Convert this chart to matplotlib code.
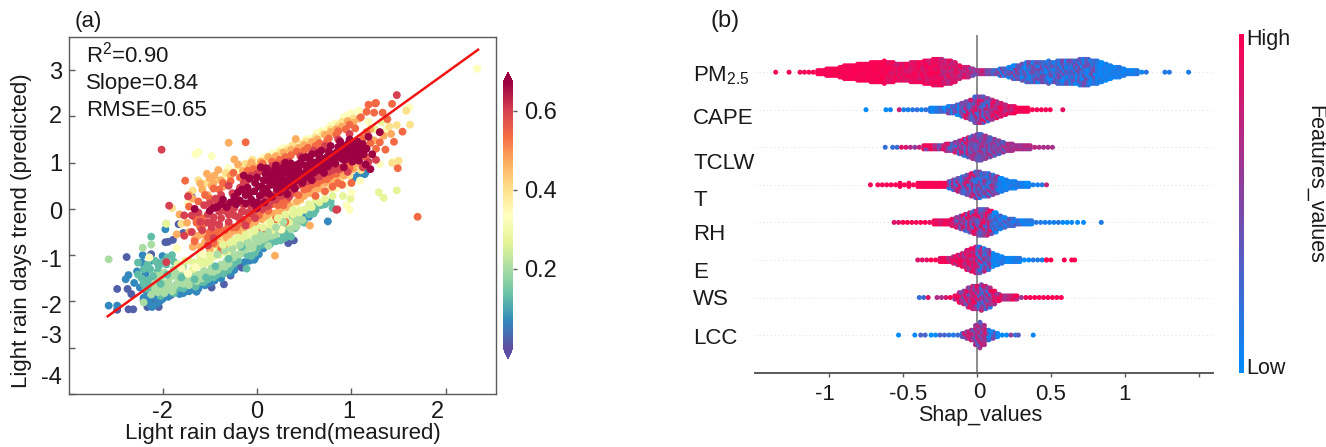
import numpy as np
import matplotlib
matplotlib.use("Agg")
import matplotlib.pyplot as plt
import matplotlib.transforms as mtrans
from matplotlib.colors import LinearSegmentedColormap, Normalize
from matplotlib.cm import ScalarMappable

plt.rcParams['font.family'] = ['Liberation Sans', 'DejaVu Sans']
plt.rcParams['mathtext.default'] = 'regular'

W, H = 1326, 447

# ---------- panel (a) data: measured / predicted, grouped by density ----------
density_levels = [0.02, 0.07, 0.13, 0.20, 0.27, 0.33, 0.40, 0.47, 0.54, 0.60, 0.67]

pts_indigo = [(-1.48,-1.73),(-1.37,-1.73),(-1.33,-1.84),(-1.38,-1.04),(-.94,-.71),(-.89,-.67),(-.83,-.33),
 (-1.48,-2.18),(-1.36,-2.17),(-1.31,-2.17),(-.48,-1.7),(-.35,-1.63),(-.91,-1.86),(-.2,-1.23),(-1.12,-.98),
 (-1.12,-2.02),(-1.04,-2.12),(-.97,-.72),(-.78,-.52),(-.28,-1.44),(-.16,-1.27),(-1.16,-2.12),(-1.1,-1.98),
 (-1.2,-1.98),(-.62,-1.62),(-.68,-1.74),(.39,-.68),(-.69,.26),(.33,-.74)]
pts_blue = [(-1.57,-2.09),(-1.48,-2.09),(-1.39,-1.52),(-1.36,-1.43),(-1.21,-1.0),(-.97,-.44),(-1.13,-2.07),
 (-1.11,-2.12),(-1.03,-2.0),(-.78,-1.82),(-.64,-1.79),(-.62,-1.72),(-.28,-1.39),(-.03,-1.1),(-.02,-1.06),
 (.07,-.85),(-1.2,-1.92),(-1.15,-1.95),(-1.08,-1.9),(-1.0,-1.95),(-.95,-1.8),(-.85,-1.75),(-.72,-1.78),
 (-.55,-1.65),(-.45,-1.55),(-.38,-1.5),(-.13,-1.15),(-1.24,-1.7),(-1.2,-1.55),(-1.18,-1.4),(.75,-.27),
 (.55,-.17),(1.03,.67),(1.15,.79),(1.14,.75),(.47,-.12),(-1.27,-1.35),(-1.22,-1.16),(-.7,-1.72),
 (-1.05,-1.17),(-1.0,-1.02),(.1,-.68),(.38,-.15),(-1.17,-1.78),(-1.06,-2.05),(-.94,-1.9),(-.82,-1.84),
 (-.6,-1.58),(-.5,-1.6),(-.24,-1.32),(-.08,-1.12),(.02,-.98),(1.07,.72),(-1.3,-1.6),(-1.12,-1.12)]
pts_teal = [(-1.12,-.6),(-1.26,-1.16),(-1.22,-1.5),(-1.2,-1.3),(-1.16,-1.2),(-1.14,-1.62),(-1.18,-1.72),
 (-1.1,-1.75),(-1.06,-1.55),(-1.05,-1.35),(-1.0,-1.15),(-.95,-1.05),(-.9,-1.0),(-1.02,-1.88),(-.92,-1.72),
 (-.82,-1.7),(-.75,-1.62),(-.65,-1.68),(-.6,-1.58),(-.52,-1.52),(-.42,-1.42),(-.35,-1.4),(-.28,-1.25),
 (-.11,-1.29),(-.2,-1.12),(-.1,-1.0),(-.02,-.95),(.05,-.78),(.1,-.72),(.18,-.62),(.28,-.55),(.35,-.45),
 (.42,-.32),(.5,-.3),(.55,-.12),(.62,-.03),(.68,.08),(.78,.15),(.8,.02),(.72,.1),(.25,-.68),(.46,-.2),
 (-.88,-1.82),(-.72,-1.55),(-.5,-1.45),(-.15,-.95),(-1.26,-1.42),(-1.13,-1.3),(-1.08,-1.12),(-1.2,-1.62),
 (-1.12,-1.5),(-1.04,-1.24),(-.96,-1.2),(-.88,-1.14),(-.98,-1.78),(-.86,-1.72),(-.78,-1.72),(-.68,-1.6),
 (-.56,-1.58),(-.46,-1.48),(-.38,-1.34),(-.3,-1.32),(-.24,-1.18),(-.06,-1.02),(.0,-.86),(.14,-.76),(.2,-.7),
 (.32,-.5),(.4,-.42),(.64,.08),(.6,-.1),(.3,-.62),(.36,-.6)]
pts_green = [(-1.12,-1.85),(-1.05,-1.8),(-1.0,-1.72),(-.95,-1.65),(-.9,-1.78),(-.85,-1.62),(-.8,-1.55),
 (-.75,-1.45),(-.72,-1.65),(-.68,-1.52),(-.62,-1.42),(-.58,-1.5),(-.52,-1.38),(-.48,-1.28),(-.42,-1.32),
 (-.38,-1.2),(-.32,-1.12),(-.25,-1.05),(-.18,-.98),(-.12,-.88),(-.05,-.85),(.02,-.7),(.1,-.62),(.15,-.5),
 (.22,-.45),(.3,-.35),(.38,-.25),(-1.08,-1.6),(-1.02,-1.5),(-.98,-1.38),(-.92,-1.48),(-.88,-1.3),
 (-.82,-1.38),(-.78,-1.25),(-1.21,-.84),(-1.12,-.77),(-1.57,-1.09),(-.96,-.32),(-1.2,-2.02),(-.86,-1.45),
 (-.94,-1.58),(-1.0,-1.6),(-.76,-1.58),(-.56,-1.34),(-.34,-1.25),(-.28,-1.0),(-.08,-.76),(.12,-.8),(.2,-.55),
 (-1.08,-1.72),(-1.04,-1.64),(-.98,-1.82),(-.94,-1.74),(-.88,-1.68),(-.82,-1.56),(-.78,-1.62),(-.72,-1.5),
 (-.66,-1.44),(-.64,-1.56),(-.54,-1.44),(-.46,-1.36),(-.4,-1.26),(-.3,-1.18),(-.22,-1.0),(-.16,-.9),(-.04,-.78),
 (.06,-.66),(.16,-.58),(.26,-.42),(.34,-.38),(.44,-.22),(-1.0,-1.42),(-.9,-1.4),(-.84,-1.2),(-1.06,-1.44)]
pts_pale = [(-.68,-1.3),(-.62,-1.22),(-.55,-1.18),(-.5,-1.12),(-.45,-1.02),(-.4,-1.0),(-.32,-.95),(-.28,-.85),
 (-.22,-.8),(-.15,-.72),(-.1,-.62),(-.02,-.55),(.05,-.5),(.1,-.42),(.18,-.35),(.25,-.25),(.3,-.18),(.38,-.12),
 (.45,-.08),(.55,.1),(.62,.2),(.72,.22),(.8,.28),(.91,.28),(.99,.22),(1.29,.36),(1.34,.24),(1.48,.40),
 (-.96,-.32),(-.84,-1.2),(-.72,-1.12),(-.6,-1.02),(-.36,-.72),(-.18,-.6),(.16,-.46),(.34,-.3),(1.25,1.72),
 (.0,-.38),(-.42,-.84),(.5,-.02),(1.18,1.55),(1.32,1.88),(-.76,-1.12),(-.66,-1.16),(-.58,-1.08),(-.48,-1.02),
 (-.38,-.9),(-.3,-.8),(-.24,-.68),(-.12,-.52),(-.04,-.46),(.03,-.42),(.12,-.32),(.2,-.26),(.28,-.1),(.36,-.04),
 (.42,.02),(.58,.04),(.66,.14)]
pts_paleyel = [(-.65,1.18),(-.62,1.23),(-1.14,-1.05),(-.73,-1.40),(-.85,-.85),(-.8,-1.28),(-.65,-1.26),(-.73,.11),
 (.26,-.45),(.0,1.02),(.17,1.2),(.28,1.31),(.46,1.42),(.63,1.63),(.83,1.85),(1.0,2.07),(1.18,1.89),(1.09,.61),
 (.93,.52),(1.30,.97),(1.44,1.02),(1.37,1.71),(1.59,2.17),(1.61,2.19),(.95,.08),(.98,-.02),(.2,1.12),(.34,1.34),
 (.56,1.52),(.74,1.72),(.92,1.98),(1.08,2.12),(-.1,.92),(-.22,.82),(-.35,.7),(.06,1.1),(-.58,-.98),(-.48,-.92),
 (.08,-.28),(.14,-.14),(.7,.38),(.84,.45),(1.0,.36),(2.33,3.03),(-.3,.88),(-.48,1.14),(.12,1.15),(.24,1.28),
 (.4,1.36),(.52,1.5),(.68,1.68),(.78,1.8),(.96,2.02),(-.04,.98),(-.16,.9),(.22,-.18),(.32,-.02),(.4,.08)]
pts_yellow = [(1.62,1.82),(1.48,1.81),(1.58,2.12),(1.4,1.78),(1.3,1.65),(1.02,1.96),(.9,1.88),(.7,1.62),(.52,1.46),
 (.38,1.38),(.25,1.22),(.1,1.08),(-.05,1.06),(-.2,.95),(-.33,.78),(-.44,.64),(-.55,.55),(-.68,.4),(-.62,.62),
 (.88,.62),(.98,.72),(1.1,.84),(.78,.45),(.6,.32),(-.42,-.72),(-.3,-.58),(-.18,-.42),(-.06,-.3),(.06,-.14),
 (.22,-.06),(.36,.1),(.46,.18),(1.43,.99),(1.5,1.04),(.66,.5),(-.8,-.32),(-.9,.02),(.32,1.28),(.48,1.4),(.62,1.54),
 (.78,1.72),(.86,1.8),(-.12,.98),(-.04,.94),(.14,1.06),(-.36,-.66),(-.24,-.46),(-.12,-.34),(.0,-.2),(.12,-.12)]
pts_orange = [(-.3,1.43),(.41,1.51),(.56,-.36),(.19,-1.01),(-.53,.76),(-.41,.84),(-.24,1.07),(-.2,.96),(-.06,1.0),
 (.12,1.12),(.28,1.22),(.44,1.32),(.58,1.45),(.72,1.6),(.84,1.72),(.96,1.9),(1.08,1.95),(1.2,1.72),(1.34,1.58),
 (1.42,1.62),(1.24,1.48),(1.14,1.3),(1.06,.98),(.96,.82),(.84,.7),(.72,.56),(.6,.42),(.5,.28),(.42,.16),(.3,.02),
 (.18,-.1),(.05,-.22),(-.08,-.36),(-.2,-.5),(-.32,-.62),(-.42,-.6),(-.55,-.72),(-.62,-.58),(-.68,-.82),(-.5,-.88),
 (-.35,-.82),(-.58,.42),(-.48,.5),(-.38,.62),(-.28,.72),(-.15,.82),(-.02,.9),(-.52,.3),(-.82,-.12),(-.72,-.5),
 (-.74,-.3),(-.85,-.55),(.2,1.14),(.36,1.28),(.5,1.38),(.64,1.5),(.78,1.66),(.9,1.78),(1.02,1.86),(-.08,.9),(.04,1.02),
 (-.6,-.82),(-.44,-.76),(-.28,-.52),(-.14,-.4),(-.02,-.28),(.1,-.16),(.24,-.04),(.34,.06),(.46,.22),(.56,.34),(.66,.44),
 (.8,.58),(.92,.72),(1.02,.86),(-.56,-.56),(-.66,-.66),(-.36,-.52),(-.46,.56),(-.36,.48),(-.6,.55),(-.5,.66),(-.45,.72),
 (-.72,.3),(-.68,.22)]
pts_redorg = [(1.26,2.29),(1.18,2.25),(1.25,2.28),(1.43,2.27),(1.16,2.10),(1.24,2.08),(1.33,2.08),(1.38,1.94),(1.54,1.67),
 (1.45,1.45),(1.49,.88),(1.70,-.17),(-.12,1.44),(-.76,.61),(1.1,1.98),(.98,1.82),(.86,1.68),(.76,1.52),(.66,1.42),
 (.54,1.32),(.42,1.24),(.3,1.12),(.16,1.02),(.06,.98),(-.1,.82),(-.25,.78),(-.36,.56),(-.46,.44),(-.55,.3),(-.62,.16),
 (-.72,.05),(1.2,1.42),(1.12,1.52),(1.26,1.3),(1.3,1.44),(1.36,1.28),(1.15,1.12),(1.05,1.12),(.95,.98),(.88,.85),
 (.78,.72),(.68,.62),(.58,.52),(.5,.42),(.38,.34),(.26,.18),(.16,.1),(.04,-.05),(-.08,-.18),(-.18,-.3),(-.26,-.4),
 (-.34,-.46),(-.44,-.52),(-.52,-.62),(-.6,-.4),(-.66,-.18),(-.58,-.2),(-.66,-.7),(-.46,-.74),(-.38,-.88),(.72,.38),
 (.62,.28),(.9,.52),(1.0,.56),(.3,-.28),(.2,-.22),(.24,1.06),(.36,1.16),(.5,1.26),(.62,1.36),(.74,1.46),(.84,1.6),(.94,1.72),
 (1.04,1.74),(1.16,1.66),(-.04,.86),(-.18,.68),(-.28,.6),(-.4,.42),(-.5,.22),(.1,.02),(.22,.08),(.32,.2),(.44,.3),(.54,.44),
 (.64,.56),(.74,.64),(.84,.76),(.98,.88),(.02,-.14),(-.1,-.26),(-.22,-.4),(-.3,-.34),(-.4,-.44),(-.5,-.5),(-.56,-.32),(-.64,-.3),
 (.12,-.04),(.28,.08),(.8,.48),(.86,.56)]
pts_red = [(1.48,2.46),(-1.01,1.28),(-.93,.07),(-.73,.27),(-.77,-.14),(-.69,-.14),(-.52,-.29),(-.77,-.58),(-.69,-.5),(-.52,-.79),
 (.06,-.44),(-.46,-.63),(.84,-.02),(.85,-.01),(-.96,-1.15),(-.62,-.08),(-.56,.08),(-.5,.12),(-.44,.22),(-.38,.3),(-.34,.1),
 (-.4,-.06),(-.46,-.18),(-.3,-.28),(-.2,-.18),(-.24,.02),(-.14,.08),(-.06,.04),(.02,.12),(.1,.24),(.18,.3),(.28,.38),(.4,.46),
 (.5,.58),(.6,.66),(.7,.76),(.8,.84),(.9,.9),(.96,.8),(1.18,1.02),(1.12,.9),(1.26,1.06),(-.16,-.06),(-.06,-.1),(.06,.0),
 (-.3,-.12),(-.1,.62),(-.18,.46),(-.26,.34),(-.3,.5),(.0,.76),(.1,.86),(.22,.94),(.34,1.02),(.46,1.14),(.6,1.26),
 (.72,1.36),(.86,1.5),(.98,1.62),(-.12,-.36),(-.02,-.2),(-.58,-.46),(-.48,-.4),(-.4,-.34),(.14,.16),(.34,.26),
 (-.6,-.28),(-.52,-.12),(-.46,-.3),(-.38,-.2),(-.42,.12),(-.34,-.04),(-.28,-.04),(-.24,-.14),(-.16,-.22),(-.1,-.08),(-.02,-.02),
 (.04,.06),(.12,.06),(.2,.2),(.26,.28),(.36,.38),(.44,.52),(.54,.6),(.66,.7),(.76,.8),(.86,.86),(-.22,.24),(-.14,.56),(-.06,.72),
 (.04,.82),(.16,.92),(.28,.98)]
pts_crimson = [(-.28,.14),(-.24,.26),(-.2,.36),(-.18,.18),(-.12,.3),(-.1,.46),(-.06,.2),(-.03,.38),(-.02,.56),(0,.68),(0,.14),
 (.03,.28),(.05,.48),(.07,.62),(.09,.76),(.1,.88),(.12,.34),(.15,.52),(.17,.68),(.18,.84),(.2,.94),(.21,.42),(.24,.58),(.26,.74),
 (.28,.9),(.3,1.0),(.31,.48),(.34,.64),(.36,.8),(.38,.94),(.4,.6),(.42,.72),(.44,.86),(.46,1.0),(.48,1.1),(.5,.66),(.52,.8),
 (.54,.92),(.56,1.06),(.58,1.18),(.6,.78),(.62,.9),(.64,1.02),(.66,1.14),(.68,1.26),(.7,.88),(.72,1.0),(.74,1.12),(.76,1.24),
 (.78,1.36),(.8,1.0),(.82,1.1),(.84,1.22),(.86,1.34),(.88,1.46),(.9,1.08),(.92,1.18),(.94,1.28),(.96,1.4),(.98,1.5),(1.0,1.1),
 (1.02,1.22),(1.04,1.34),(1.06,1.46),(1.1,1.26),(1.12,1.4),(1.16,1.3),(1.18,1.56),(1.15,.96),(1.2,.86),(1.08,1.04),(1.22,1.18),
 (-.32,.04),(-.36,.2),(-.42,.04),(-.5,-.04),(-.66,.0),(-.12,.12),(.0,.02),(.08,.14),(.16,.26),(.24,.36),(.32,.32),(.4,.44),
 (.12,.6),(.04,.9),(-.14,.72),(-.08,.66),(.22,.8),(.36,.98),(.52,1.12),(.64,1.2),(.48,.56),(.58,.62),(.92,.9),(1.3,1.66),
 (-.22,.1),(-.16,.42),(-.08,.34),(-.04,.12),(.02,.48),(.06,.34),(.1,.44),(.13,.74),(.2,.54),(.23,.66),(.27,.5),(.29,.62),(.33,.76),
 (.35,.52),(.38,.68),(.41,.82),(.43,.96),(.47,.76),(.51,.94),(.55,.74),(.57,.84),(.61,1.0),(.65,.84),(.67,.98),(.69,1.08),(.71,.78),
 (.75,.92),(.77,1.06),(.79,1.18),(.83,.98),(.85,1.12),(.87,1.26),(.89,1.38),(.93,1.06),(.95,1.2),(.97,1.32),(.99,1.44),(1.01,1.02),
 (1.03,1.14),(1.05,1.28),(1.07,1.4),(1.09,1.16),(1.11,1.34),(1.13,1.18),(-.38,.1),(-.46,.02),(.18,.72),(.26,.84),(.32,.9),(.45,.66),(.6,.88)]
pts_all = [pts_indigo, pts_blue, pts_teal, pts_green, pts_pale, pts_paleyel, pts_yellow,
           pts_orange, pts_redorg, pts_red, pts_crimson]

# lower-density points that lie on top of the pile
top_teal = [(-1.1,-1.45),(-1.02,-1.62),(-.95,-1.42),(-.8,-1.48),(-.66,-1.52),(-.54,-1.48),(-1.16,-1.55),(-.44,-1.24),(-.3,-1.08),(-.16,-.82)]
top_green = [(-.42,-.98),(-.34,-.9),(-.26,-.86),(-.18,-.78),(-.1,-.72),(-.02,-.64),(.04,-.56),(.12,-.5),(.2,-.4),(.28,-.28),(.36,-.44),(.42,-.38),(.48,-.24)]
top_pale = [(-.36,-.78),(-.28,-.72),(-.2,-.62),(-.12,-.58),(-.04,-.48),(.06,-.4),(.14,-.28),(.22,-.2),(.3,-.12),(.38,-.02),(-.5,-1.0),(-.6,-1.12)]
top_yellow = [(-.73,-1.40),(-.85,-.85),(-.65,-1.26),(-1.14,-1.05)]
top_levels = [0.13, 0.20, 0.27, 0.33]
top_all = [top_teal, top_green, top_pale, top_yellow]

fit_x = [-1.58, 2.34]
fit_y = [-2.32, 3.44]

xtick_pos = [-1, 0, 1, 2]
xtick_lab = ['-2', '0', '1', '2']
ytick_pos = [3, 2, 1, 0, -1, -2, -3, -4]
ytick_lab = ['3', '2', '1', '0', '-1', '-2', '-3', '-4']
cbar_ticks = [0.2, 0.4, 0.6]

# ---------- panel (b) data: beeswarm column heights (number of stacked dots per 0.03 bin) ----------
features = ['PM$_{2.5}$', 'CAPE', 'TCLW', 'T', 'RH', 'E', 'WS', 'LCC']
bin_w = 0.03
starts = [-1.196, -0.615, -0.57, -0.67, -0.56, -0.37, -0.39, -0.31]
counts_pm = [1,1,1,1,2,2,3,3,3,4,5,5,5,6,6,6,7,7,7,8,7,7,6,6,6,7,7,7,8,8,9,9,9,8,8,7,5,4,4,3,2,2,2,2,2,3,3,4,5,5,6,7,7,7,7,7,8,7,8,8,8,8,8,9,9,9,8,8,7,6,5,4,4,3,2,2,2,1,1]
counts_cape = [1,1,0,1,1,1,1,1,1,1,2,2,2,2,3,3,4,5,6,7,9,9,9,8,7,6,5,4,3,3,2,2,2,1,1,1,1,1]
counts_tclw = [1,1,1,1,1,1,1,2,2,2,2,2,3,3,4,5,6,7,8,9,9,8,7,6,5,4,3,3,2,2,2,2,1,1,1,1,1]
counts_t = [1,1,1,1,1,2,1,2,1,2,2,2,2,2,2,2,3,4,5,6,7,8,9,9,8,8,7,6,5,4,3,3,2,2,2,1,1,1]
counts_rh = [1,1,1,1,1,1,1,1,1,2,2,2,2,3,4,5,6,7,8,9,9,9,8,7,5,4,3,3,2,2,2,2,1,1,1,1,1,1,1,1,1]
counts_e = [1,1,1,1,2,2,2,3,4,5,7,8,9,9,8,7,5,4,3,2,2,2,2,1,1,1,1,1,1]
counts_ws = [1,1,1,0,1,1,1,1,2,4,5,7,8,8,9,8,7,5,3,2,2,2,2,1,1,1,1,1,1,1,1,1,1]
counts_lcc = [1,1,1,1,1,1,1,2,3,4,7,9,7,4,3,2,1,1,1,1]
row_counts = [counts_pm, counts_cape, counts_tclw, counts_t, counts_rh, counts_e, counts_ws, counts_lcc]
row_singles = [[-1.36,-1.27,1.27,1.30,1.43], [-.75,.58], [-.62], [-.72,.47], [.68,.72,.84],
               [-.4,.47,.5,.59,.64,.66], [], [-.53,-.42,-.38,-.35,.28,.38]]
# (upper shap edge, mean feature value, spread of feature value)
zones_pm = [(-.6,.97,.03),(-.25,.9,.1),(-.05,.8,.15),(.1,.6,.2),(.3,.3,.3),(.8,.25,.25),(1.5,.08,.08)]
zones_cape = [(-.5,.5,.5),(-.25,.1,.1),(-.1,.3,.3),(.1,.55,.35),(.25,.8,.2),(.7,.95,.05)]
zones_tclw = [(-.35,.6,.4),(-.2,.7,.3),(-.05,.55,.35),(.2,.5,.2),(.7,.65,.08)]
zones_t = [(-.2,.97,.03),(0,.5,.35),(.15,.4,.3),(.44,.08,.08),(.6,.75,0)]
zones_rh = [(-.3,.95,.08),(-.15,.9,.1),(.1,.6,.35),(.3,.2,.2),(.9,.08,.08)]
zones_e = [(-.2,.95,.08),(0,.8,.2),(.1,.45,.35),(.44,.08,.08),(.7,1,0)]
zones_ws = [(-.25,.6,.4),(0,.7,.3),(.1,.5,.35),(.3,.8,.2),(.65,.97,.03)]
zones_lcc = [(-.1,.15,.2),(.07,.6,.25),(.3,.25,.35),(.45,.05,.05)]
row_zones = [zones_pm, zones_cape, zones_tclw, zones_t, zones_rh, zones_e, zones_ws, zones_lcc]
bee_ticks = [-1, -0.5, 0, 0.5, 1, 1.5]
bee_ticklabels = ['-1', '-0.5', '0', '0.5', '1', '']

# ---------- layout helpers ----------
def axbox(l, t, r, b):
    return [l / W, 1 - b / H, (r - l) / W, (b - t) / H]

def ftext(x, y, s, **kw):
    return fig.text(x / W, 1 - y / H, s, ha=kw.pop('ha', 'center'), va=kw.pop('va', 'center'), **kw)

def shift(label, dx, dy):
    label.set_transform(label.get_transform() + mtrans.Affine2D().translate(dx, dy))

fig = plt.figure(figsize=(W / 100, H / 100), dpi=100)
GREY = '#5a5a5a'
TXT = '#1a1a1a'

# ---------- panel (a) ----------
ax = fig.add_axes(axbox(69, 37, 496, 394))
norm = Normalize(0, 0.67)
cmap = plt.get_cmap('Spectral_r')
for lev, pts in zip(density_levels, pts_all):
    xs, ys = zip(*pts)
    ax.scatter(xs, ys, c=[lev] * len(xs), cmap=cmap, norm=norm, s=32, linewidths=0)
for lev, pts in zip(top_levels, top_all):
    xs, ys = zip(*pts)
    ax.scatter(xs, ys, c=[lev] * len(xs), cmap=cmap, norm=norm, s=32, linewidths=0)
ax.plot(fit_x, fit_y, color='#f01414', lw=1.8)
ax.set_xlim(-1.99, 2.53)
ax.set_ylim(-4.0, 3.715)
ax.set_xticks(xtick_pos, xtick_lab)
ax.set_yticks(ytick_pos, ytick_lab)
ax.tick_params(direction='in', length=4, width=1, color=GREY, labelsize=17, labelcolor=TXT, pad=5)
for sp in ax.spines.values():
    sp.set_color(GREY)
    sp.set_linewidth(1.0)
for lab, dx in zip(ax.get_xticklabels(), [0, 0, -3, -8]):
    shift(lab, dx, 0)
for lab, dy in zip(ax.get_yticklabels(), [0, 2, 0, -2, -3, -3, 13, 19]):
    shift(lab, 0, dy)
for s, py in zip(['R$^2$=0.90', 'Slope=0.84', 'RMSE=0.65'], [55, 83, 110]):
    ftext(86, py, s, ha='left', fontsize=16, color=TXT)
ftext(283, 434, 'Light rain days trend(measured)', fontsize=16, color=TXT)
ftext(22, 231, 'Light rain days trend (predicted)', fontsize=16, color=TXT, rotation=90)
ftext(88, 21, '(a)', fontsize=16, color=TXT)

cax = fig.add_axes(axbox(503, 72, 513, 359))
cb = fig.colorbar(ScalarMappable(norm, cmap), cax=cax, extend='both', extendfrac=0.042, ticks=cbar_ticks)
cb.outline.set_visible(False)
cb.ax.tick_params(direction='out', length=3, width=1, color=GREY, labelsize=17, labelcolor=TXT, pad=5)

# ---------- panel (b) ----------
bx = fig.add_axes(axbox(755, 35, 1213, 373))
shapmap = LinearSegmentedColormap.from_list('shap', ['#008bfb', '#ff0051'])
mix = [-1, .6, -.3, 1, -.7, .2, .8, -.9, .1, .5, -.5, .9, -.1, -.8, .7, .3, -.6, 1, -.2, .4, -1, .6, 0]
n_rows = len(features)
row_step = 37.57  # px between rows
dot_step = 3.2 / row_step

def zone_value(x, zones, i, j):
    for edge, mean, spread in zones:
        if x <= edge:
            return np.clip(mean + spread * mix[(7 * i + 11 * j + i * j) % len(mix)], 0, 1)
    return 0.5

bx.axvline(0, color='#8c8c8c', lw=1.4, zorder=0)
for r in range(n_rows):
    y0 = n_rows - 1 - r
    bx.axhline(y0, color='#dddddd', lw=0.7, ls=(0, (1, 3)), zorder=0)
    xs, ys, vs = [], [], []
    cols = row_counts[r]
    for i, n in enumerate(cols):
        x = starts[r] + i * bin_w
        for j in range(n):
            xs.append(x)
            ys.append(y0 + (j - (n - 1) / 2) * dot_step)
            vs.append(zone_value(x, row_zones[r], i, j))
        # swarm fill between neighbouring columns
        if i + 1 < len(cols) and min(n, cols[i + 1]) >= 2:
            m = min(n, cols[i + 1])
            xm = x + bin_w / 2
            for j in range(m):
                xs.append(xm)
                ys.append(y0 + (j - (m - 1) / 2) * dot_step)
                vs.append(zone_value(xm, row_zones[r], i + 9, j + 4))
    for i, x in enumerate(row_singles[r]):
        xs.append(x)
        ys.append(y0)
        vs.append(zone_value(x, row_zones[r], i, 0))
    bx.scatter(xs, ys, c=vs, cmap=shapmap, vmin=0, vmax=1, s=13, linewidths=0, zorder=2)
bx.set_xlim(-1.5, 1.595)
bx.set_ylim(-1.01, 7.99)
for k in ['left', 'right', 'top']:
    bx.spines[k].set_visible(False)
bx.spines['bottom'].set_color(GREY)
bx.spines['bottom'].set_linewidth(1.4)
bx.set_xticks(bee_ticks, bee_ticklabels)
bx.tick_params(axis='x', direction='out', length=3, width=1, color=GREY, labelsize=16, labelcolor=TXT, pad=5)
for lab, dx, dy in zip(bx.get_xticklabels(), [-4, 5, 2, 0, 0, 0], [0, 0, 2, 0, 0, 0]):
    shift(lab, dx, dy)
bx.set_yticks(list(range(n_rows - 1, -1, -1)), features)
bx.tick_params(axis='y', length=0, labelsize=16, labelcolor=TXT, pad=0)
for lab, dy in zip(bx.get_yticklabels(), [1, 6, 14, 13, 10, 10, -1, 1]):
    lab.set_ha('left')
    shift(lab, 693 - 755, -dy)
ftext(980, 416, 'Shap_values', fontsize=15.5, color=TXT)
ftext(725, 21, '(b)', fontsize=17, color=TXT)

dax = fig.add_axes(axbox(1239, 34, 1244, 373))
cb2 = fig.colorbar(ScalarMappable(Normalize(0, 1), shapmap), cax=dax, ticks=[])
cb2.outline.set_visible(False)
ftext(1246, 39, 'High', ha='left', fontsize=15.5, color=TXT)
ftext(1246, 369, 'Low', ha='left', fontsize=15.5, color=TXT)
ftext(1315, 184, 'Features_values', fontsize=15.5, color=TXT, rotation=270)

fig.savefig('out.png', dpi=100)
